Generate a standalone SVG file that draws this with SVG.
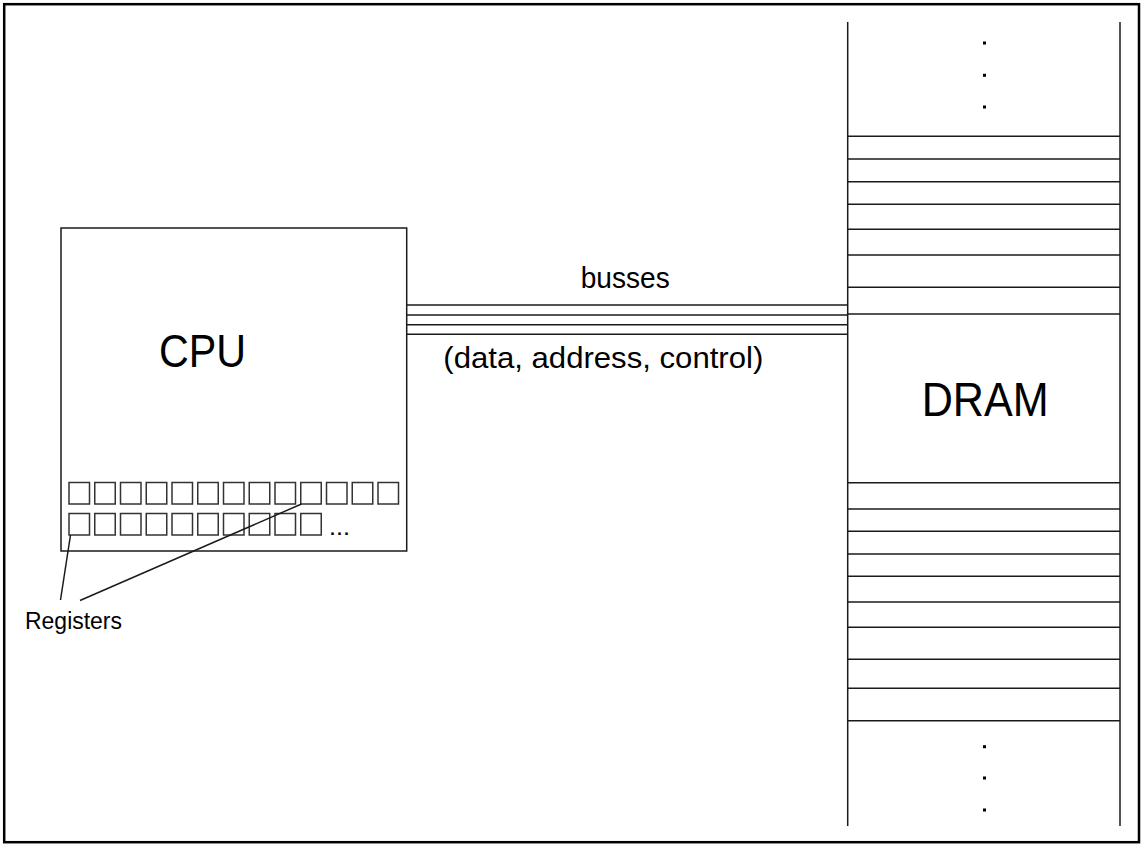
<svg xmlns="http://www.w3.org/2000/svg" width="1141" height="844" viewBox="0 0 1141 844">
<style>
.ln{stroke:#1a1a1a;stroke-width:1.5;fill:none}
.reg{stroke:#333;stroke-width:1.5;fill:#fff}
.t{font-family:"Liberation Sans",Arial,sans-serif;fill:#000}
.dot{fill:#000}
</style>
<rect x="0" y="0" width="1141" height="844" fill="#fff"/>
<rect id="frame" x="4.2" y="4.2" width="1134.8" height="838" fill="none" stroke="#000" stroke-width="2.5"/>
<g id="cpu">
<rect class="ln" x="61" y="228" width="345.7" height="323" fill="#fff"/>
<text class="t" x="159" y="366.7" font-size="47" textLength="87" lengthAdjust="spacingAndGlyphs">CPU</text>
<g id="registers">
<rect class="reg" x="69" y="482.5" width="20.5" height="21.5"/>
<rect class="reg" x="94.75" y="482.5" width="20.5" height="21.5"/>
<rect class="reg" x="120.5" y="482.5" width="20.5" height="21.5"/>
<rect class="reg" x="146.25" y="482.5" width="20.5" height="21.5"/>
<rect class="reg" x="172" y="482.5" width="20.5" height="21.5"/>
<rect class="reg" x="197.75" y="482.5" width="20.5" height="21.5"/>
<rect class="reg" x="223.5" y="482.5" width="20.5" height="21.5"/>
<rect class="reg" x="249.25" y="482.5" width="20.5" height="21.5"/>
<rect class="reg" x="275" y="482.5" width="20.5" height="21.5"/>
<rect class="reg" x="300.75" y="482.5" width="20.5" height="21.5"/>
<rect class="reg" x="326.5" y="482.5" width="20.5" height="21.5"/>
<rect class="reg" x="352.25" y="482.5" width="20.5" height="21.5"/>
<rect class="reg" x="378" y="482.5" width="20.5" height="21.5"/>
<rect class="reg" x="69" y="513.5" width="20.5" height="21.5"/>
<rect class="reg" x="94.75" y="513.5" width="20.5" height="21.5"/>
<rect class="reg" x="120.5" y="513.5" width="20.5" height="21.5"/>
<rect class="reg" x="146.25" y="513.5" width="20.5" height="21.5"/>
<rect class="reg" x="172" y="513.5" width="20.5" height="21.5"/>
<rect class="reg" x="197.75" y="513.5" width="20.5" height="21.5"/>
<rect class="reg" x="223.5" y="513.5" width="20.5" height="21.5"/>
<rect class="reg" x="249.25" y="513.5" width="20.5" height="21.5"/>
<rect class="reg" x="275" y="513.5" width="20.5" height="21.5"/>
<rect class="reg" x="300.75" y="513.5" width="20.5" height="21.5"/>
<text class="t" x="329" y="535" font-size="23" textLength="21" lengthAdjust="spacingAndGlyphs">...</text>
</g>
</g>
<g id="dram">
<line class="ln" x1="847.7" y1="22" x2="847.7" y2="826"/>
<line class="ln" x1="1120" y1="22" x2="1120" y2="826"/>
<g class="ln">
<line x1="847.7" y1="136.3" x2="1120" y2="136.3"/>
<line x1="847.7" y1="159" x2="1120" y2="159"/>
<line x1="847.7" y1="181.7" x2="1120" y2="181.7"/>
<line x1="847.7" y1="204.3" x2="1120" y2="204.3"/>
<line x1="847.7" y1="229.3" x2="1120" y2="229.3"/>
<line x1="847.7" y1="255" x2="1120" y2="255"/>
<line x1="847.7" y1="287.3" x2="1120" y2="287.3"/>
<line x1="847.7" y1="314" x2="1120" y2="314"/>
<line x1="847.7" y1="482.7" x2="1120" y2="482.7"/>
<line x1="847.7" y1="509" x2="1120" y2="509"/>
<line x1="847.7" y1="531.3" x2="1120" y2="531.3"/>
<line x1="847.7" y1="554" x2="1120" y2="554"/>
<line x1="847.7" y1="576.3" x2="1120" y2="576.3"/>
<line x1="847.7" y1="602" x2="1120" y2="602"/>
<line x1="847.7" y1="627.3" x2="1120" y2="627.3"/>
<line x1="847.7" y1="659.3" x2="1120" y2="659.3"/>
<line x1="847.7" y1="688.3" x2="1120" y2="688.3"/>
<line x1="847.7" y1="720.7" x2="1120" y2="720.7"/>
</g>
<rect class="dot" x="983" y="41.5" width="3" height="3"/>
<rect class="dot" x="983" y="73.8" width="3" height="3"/>
<rect class="dot" x="983" y="105.5" width="3" height="3"/>
<rect class="dot" x="983" y="745.2" width="3" height="3"/>
<rect class="dot" x="983" y="776.5" width="3" height="3"/>
<rect class="dot" x="983" y="808.5" width="3" height="3"/>
<text class="t" x="921.7" y="415.7" font-size="49" textLength="127" lengthAdjust="spacingAndGlyphs">DRAM</text>
</g>
<g id="busses">
<text class="t" x="580.7" y="288.3" font-size="30" textLength="89" lengthAdjust="spacingAndGlyphs">busses</text>
<text class="t" x="443.3" y="368.3" font-size="29" textLength="320" lengthAdjust="spacingAndGlyphs">(data, address, control)</text>
</g>
<g id="registers-label">
<text class="t" x="25" y="629" font-size="23" textLength="97" lengthAdjust="spacingAndGlyphs">Registers</text>
</g>
<g id="connectors" class="ln">
<line x1="406.7" y1="305" x2="847.7" y2="305"/>
<line x1="406.7" y1="315" x2="847.7" y2="315"/>
<line x1="406.7" y1="324.7" x2="847.7" y2="324.7"/>
<line x1="406.7" y1="334.3" x2="847.7" y2="334.3"/>
<line x1="70.5" y1="535" x2="60.5" y2="600"/>
<line x1="301.5" y1="504" x2="80" y2="600.5"/>
</g>
</svg>
